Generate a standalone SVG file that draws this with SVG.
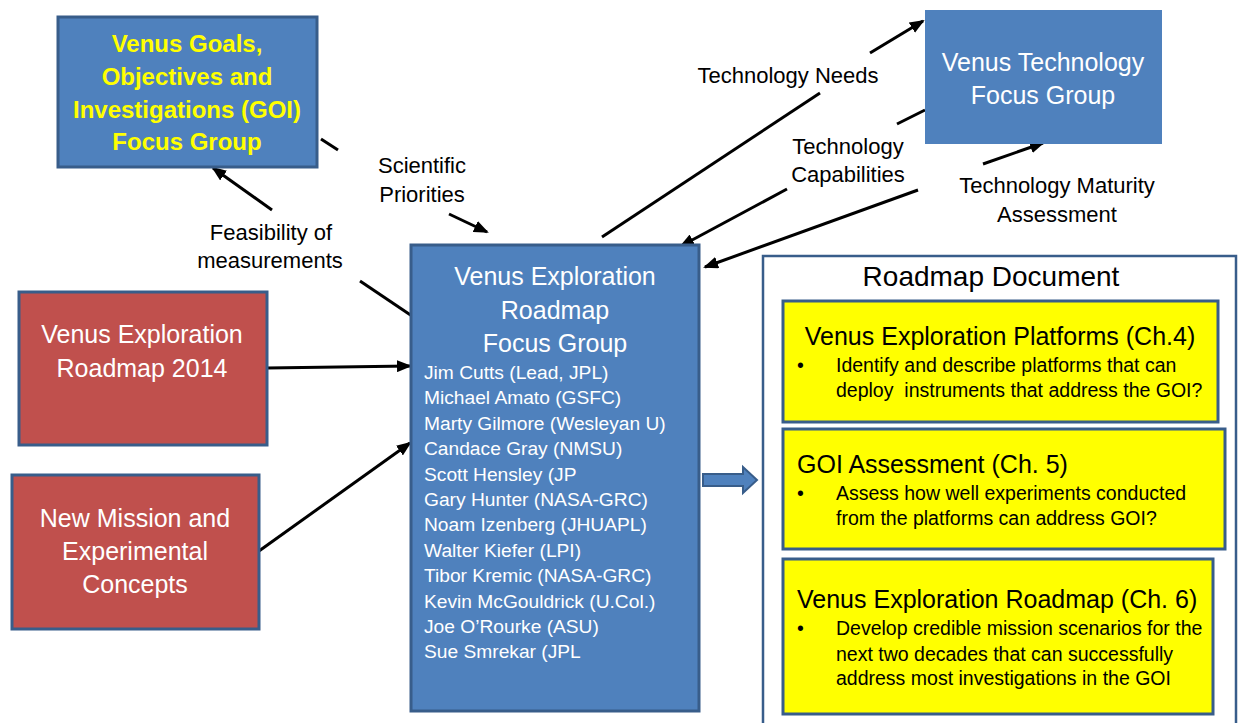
<svg xmlns="http://www.w3.org/2000/svg" width="1238" height="723" viewBox="0 0 1238 723">
<style>
text{font-family:"Liberation Sans",Arial,sans-serif}
.blue{fill:#4F81BD;stroke:#385D8A;stroke-width:3}
.red{fill:#C0504D;stroke:#385D8A;stroke-width:3}
.yel{fill:#FFFF00;stroke:#385D8A;stroke-width:3}
.doc{fill:#FFFFFF;stroke:#385D8A;stroke-width:2.5}
.w{fill:#FFFFFF;font-size:25px;text-anchor:middle}
.goi{fill:#FFFF00;font-size:24px;font-weight:bold;text-anchor:middle}
.nm{fill:#FFFFFF;font-size:19.2px}
.lbl{fill:#000000;font-size:22px;text-anchor:middle}
.yt{fill:#000000;font-size:25px}
.yb{fill:#000000;font-size:19.5px}
.ln{stroke:#000000;stroke-width:3;fill:none}
.ar{stroke:#000000;stroke-width:3;fill:none;marker-end:url(#ah)}
</style>
<defs>
<marker id="ah" markerUnits="userSpaceOnUse" markerWidth="16" markerHeight="12" refX="13" refY="6" orient="auto">
<path d="M0,0 L15,6 L0,12 z" fill="#000000"/>
</marker>
</defs>

<g id="connectors">
<path class="ln" d="M321,139 L338,150"/>
<path class="ar" d="M449,214 L487,232"/>
<path class="ln" d="M412,316 L360,281"/>
<path class="ar" d="M272,210 L213,168"/>
<path class="ar" d="M267,368 L410,366"/>
<path class="ar" d="M259,551 L410,443"/>
<path class="ln" d="M602,237 L820,93"/>
<path class="ar" d="M870,53 L923,21"/>
<path class="ln" d="M925,110 L897,124"/>
<path class="ar" d="M787,189 L681,246"/>
<path class="ar" d="M983,164 L1043,143"/>
<path class="ar" d="M918,190 L705,267"/>
<path id="block-arrow" d="M703,474 L743,474 L743,467 L757,480 L743,493 L743,486 L703,486 z" fill="#4F81BD" stroke="#385D8A" stroke-width="2"/>
</g>

<g id="labels">
<text class="lbl" x="422" y="173">Scientific</text>
<text class="lbl" x="422" y="202">Priorities</text>
<text class="lbl" x="271" y="240">Feasibility of</text>
<text class="lbl" x="270" y="268">measurements</text>
<text class="lbl" x="788" y="83">Technology Needs</text>
<text class="lbl" x="848" y="154">Technology</text>
<text class="lbl" x="848" y="182">Capabilities</text>
<text class="lbl" x="1057" y="193">Technology Maturity</text>
<text class="lbl" x="1057" y="222">Assessment</text>
</g>

<g id="goi">
<rect class="blue" x="58" y="17" width="259" height="150"/>
<text class="goi" x="187" y="52">Venus Goals,</text>
<text class="goi" x="187" y="85">Objectives and</text>
<text class="goi" x="187" y="118">Investigations (GOI)</text>
<text class="goi" x="187" y="150">Focus Group</text>
</g>

<g id="tech">
<rect x="925" y="10" width="237" height="134" fill="#4F81BD"/>
<text class="w" x="1043" y="71">Venus Technology</text>
<text class="w" x="1043" y="104">Focus Group</text>
</g>

<g id="roadmap2014">
<rect class="red" x="19" y="292" width="248" height="153"/>
<text class="w" x="142" y="343">Venus Exploration</text>
<text class="w" x="142" y="377">Roadmap 2014</text>
</g>

<g id="newmission">
<rect class="red" x="12" y="475" width="247" height="154"/>
<text class="w" x="135" y="527">New Mission and</text>
<text class="w" x="135" y="560">Experimental</text>
<text class="w" x="135" y="593">Concepts</text>
</g>

<g id="central">
<rect class="blue" x="411" y="245" width="288" height="466"/>
<text class="w" x="555" y="285">Venus Exploration</text>
<text class="w" x="555" y="319">Roadmap</text>
<text class="w" x="555" y="352">Focus Group</text>
<text class="nm" x="424" y="379">Jim Cutts (Lead, JPL)</text>
<text class="nm" x="424" y="404.4">Michael Amato (GSFC)</text>
<text class="nm" x="424" y="429.8">Marty Gilmore (Wesleyan U)</text>
<text class="nm" x="424" y="455.2">Candace Gray (NMSU)</text>
<text class="nm" x="424" y="480.6">Scott Hensley (JP</text>
<text class="nm" x="424" y="506">Gary Hunter (NASA-GRC)</text>
<text class="nm" x="424" y="531.4">Noam Izenberg (JHUAPL)</text>
<text class="nm" x="424" y="556.8">Walter Kiefer (LPI)</text>
<text class="nm" x="424" y="582.2">Tibor Kremic (NASA-GRC)</text>
<text class="nm" x="424" y="607.6">Kevin McGouldrick (U.Col.)</text>
<text class="nm" x="424" y="633">Joe O’Rourke (ASU)</text>
<text class="nm" x="424" y="658.4">Sue Smrekar (JPL</text>
</g>

<g id="roadmap-document">
<rect class="doc" x="763" y="256" width="473" height="480"/>
<text fill="#000000" font-size="28" text-anchor="middle" x="991" y="286">Roadmap Document</text>
</g>

<g id="ch4">
<rect class="yel" x="783" y="301" width="435" height="121"/>
<text class="yt" x="1000" y="345" text-anchor="middle">Venus Exploration Platforms (Ch.4)</text>
<text class="yb" x="797" y="372">•</text>
<text class="yb" x="836" y="372">Identify and describe platforms that can</text>
<text class="yb" x="836" y="397">deploy&#160; instruments that address the GOI?</text>
</g>

<g id="ch5">
<rect class="yel" x="783" y="429" width="442" height="120"/>
<text class="yt" x="797" y="473">GOI Assessment (Ch. 5)</text>
<text class="yb" x="797" y="500">•</text>
<text class="yb" x="836" y="500">Assess how well experiments conducted</text>
<text class="yb" x="836" y="525">from the platforms can address GOI?</text>
</g>

<g id="ch6">
<rect class="yel" x="783" y="559" width="430" height="155"/>
<text class="yt" x="797" y="608">Venus Exploration Roadmap (Ch. 6)</text>
<text class="yb" x="797" y="635">•</text>
<text class="yb" x="836" y="635">Develop credible mission scenarios for the</text>
<text class="yb" x="836" y="661">next two decades that can successfully</text>
<text class="yb" x="836" y="685">address most investigations in the GOI</text>
</g>
</svg>
